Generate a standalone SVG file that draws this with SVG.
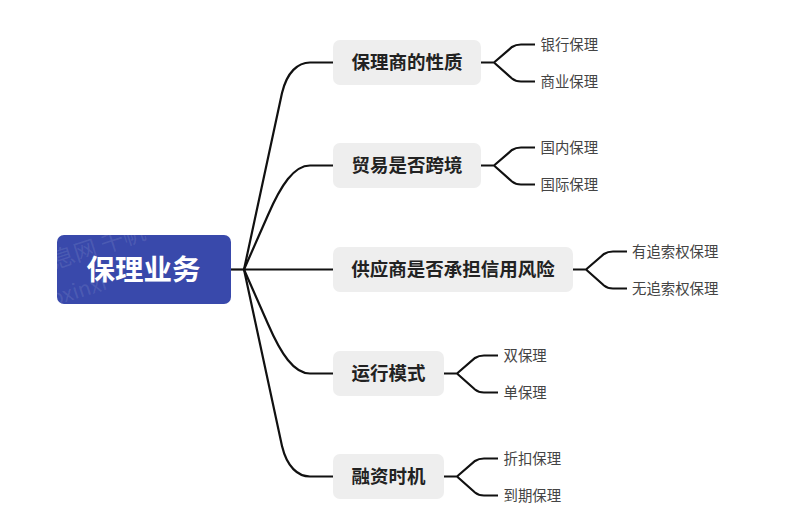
<svg xmlns="http://www.w3.org/2000/svg" width="800" height="523" viewBox="0 0 800 523">
<style>
text{font-family:"Noto Sans CJK SC","Liberation Sans",sans-serif}
.c{fill:none;stroke:#111;stroke-width:2.2;stroke-linecap:butt}
.b{fill:#eeeeee}
.bt{font-size:18.500px;font-weight:700;fill:#222}
.l{font-size:14.400px;fill:#444}
.w{fill:#fff;fill-opacity:.1}
</style>
<defs><clipPath id="rc"><rect x="57" y="235" width="174" height="69" rx="7"/></clipPath></defs>
<rect width="800" height="523" fill="#fff"/>
<g id="connectors">
<path class="c" d="M231 269.500H244"/>
<path class="c" d="M244 269.500L282 93C287 72 298 62.500 310 62.500H333"/>
<path class="c" d="M244 269.500L268 215C281 185 294 165.500 310 165.500H333"/>
<path class="c" d="M244 269.500H333"/>
<path class="c" d="M244 269.500L268 324C281 354 294 373.500 310 373.500H333"/>
<path class="c" d="M244 269.500L282 446C287 467 298 476.500 310 476.500H333"/>
<path class="c" d="M481 62.500H494L512 47C515 45 517 44.500 521 44.500H535M494 62.500L512 78.500C515 81 517 81.500 521 81.500H535"/>
<path class="c" d="M481 165.500H494L512 150C515 148 517 147.500 521 147.500H535M494 165.500L512 181.500C515 184 517 184.500 521 184.500H535"/>
<path class="c" d="M573 269.500H586L604 254C607 252 609 251.500 613 251.500H627M586 269.500L604 285.500C607 288 609 288.500 613 288.500H627"/>
<path class="c" d="M444 373.500H457L475 358C478 356 480 355.500 484 355.500H498M457 373.500L475 389.500C478 392 480 392.500 484 392.500H498"/>
<path class="c" d="M444 476.500H457L475 461C478 459 480 458.500 484 458.500H498M457 476.500L475 492.500C478 495 480 495.500 484 495.500H498"/>
</g>
<g id="root">
<rect x="57" y="235" width="174" height="69" rx="7" fill="#3949ab"/>
<g clip-path="url(#rc)">
<text class="w" font-size="23" transform="rotate(-18 55 269)" x="55" y="269">息网 千帆</text>
<text class="w" font-size="21" transform="rotate(-17 53 306)" x="53" y="306">oxinxi</text>
</g>
<text x="143.500" y="279.500" text-anchor="middle" font-size="28.500" font-weight="700" fill="#fff">保理业务</text>
</g>
<g id="n1"><rect class="b" x="333" y="40" width="148" height="45" rx="7"/><text class="bt" x="407" y="68.500" text-anchor="middle">保理商的性质</text></g>
<g id="n2"><rect class="b" x="333" y="143" width="148" height="45" rx="7"/><text class="bt" x="407" y="171.500" text-anchor="middle">贸易是否跨境</text></g>
<g id="n3"><rect class="b" x="333" y="247" width="240" height="45" rx="7"/><text class="bt" x="453" y="275.500" text-anchor="middle">供应商是否承担信用风险</text></g>
<g id="n4"><rect class="b" x="333" y="351" width="111" height="45" rx="7"/><text class="bt" x="388.500" y="379.500" text-anchor="middle">运行模式</text></g>
<g id="n5"><rect class="b" x="333" y="454" width="111" height="45" rx="7"/><text class="bt" x="388.500" y="482.500" text-anchor="middle">融资时机</text></g>
<g id="l11"><text class="l" x="540.500" y="49.500">银行保理</text></g>
<g id="l12"><text class="l" x="540.500" y="86.500">商业保理</text></g>
<g id="l21"><text class="l" x="540.500" y="152.500">国内保理</text></g>
<g id="l22"><text class="l" x="540.500" y="189.500">国际保理</text></g>
<g id="l31"><text class="l" x="632" y="256.500">有追索权保理</text></g>
<g id="l32"><text class="l" x="632" y="293.500">无追索权保理</text></g>
<g id="l41"><text class="l" x="503.500" y="360.500">双保理</text></g>
<g id="l42"><text class="l" x="503.500" y="397.500">单保理</text></g>
<g id="l51"><text class="l" x="503.500" y="463.500">折扣保理</text></g>
<g id="l52"><text class="l" x="503.500" y="500.500">到期保理</text></g>
</svg>
